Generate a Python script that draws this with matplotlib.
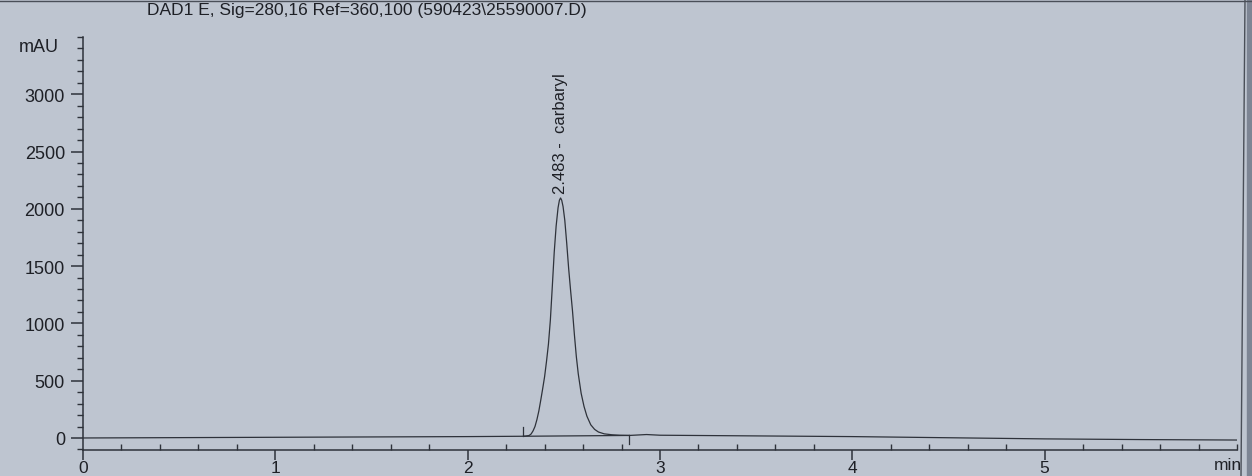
import matplotlib.pyplot as plt
import matplotlib.transforms as mtransforms
from matplotlib.ticker import MultipleLocator

# signal (time in min, signal in mAU)
time_min = [0.00, 0.50, 1.00, 1.50, 2.00, 2.29, 2.300, 2.320, 2.330, 2.340,
            2.350, 2.360, 2.370, 2.380, 2.390, 2.400, 2.410, 2.420, 2.430,
            2.440, 2.450, 2.460, 2.470, 2.477, 2.483, 2.489, 2.496, 2.505,
            2.515, 2.525, 2.535, 2.545, 2.555, 2.565, 2.575, 2.590, 2.605,
            2.620, 2.640, 2.660, 2.680, 2.710, 2.750, 2.790, 2.840, 2.930,
            3.000, 3.500, 4.000, 4.500, 5.000, 5.500, 6.000]
signal_mau = [0, 3, 6, 9, 12, 15, 16, 22, 35, 62,
              100, 160, 235, 330, 430, 535, 670, 820, 1030,
              1320, 1620, 1850, 2010, 2075, 2095, 2075, 2020, 1900,
              1700, 1480, 1290, 1110, 900, 710, 560, 390, 275,
              190, 115, 75, 52, 36, 28, 24, 22, 30,
              24, 18, 12, 2, -8, -14, -18]

peak_rt = 2.483
peak_name = "carbaryl"
peak_top = 2095
bl_start = (2.29, 15)
bl_end = (2.84, 22)

title = "DAD1 E, Sig=280,16 Ref=360,100 (590423\\25590007.D)"

bg = "#bec5d0"
ink = "#2e323a"
txt = "#1e2026"

plt.rcParams['font.family'] = ['Liberation Sans', 'DejaVu Sans']

W, H = 1252, 477
fig = plt.figure(figsize=(W / 100, H / 100), dpi=100, facecolor=bg)
ax = fig.add_axes([83 / W, (H - 451) / H, (1237 - 83) / W, (451 - 38) / H])
ax.set_facecolor(bg)

ax.plot(time_min, signal_mau, color=ink, lw=0.9)

# integration baseline and start/end marks
ax.plot([bl_start[0], bl_end[0]], [bl_start[1], bl_end[1]], color=ink, lw=0.9)
ax.plot([bl_start[0], bl_start[0]], [bl_start[1], bl_start[1] + 80], color=ink, lw=0.9)
ax.plot([bl_end[0], bl_end[0]], [bl_end[1], bl_end[1] - 75], color=ink, lw=0.9)

ax.text(peak_rt, peak_top + 40, f"{peak_rt:.3f} -  {peak_name}", rotation=90,
        ha='center', va='bottom', fontsize=12, color=txt)

ax.set_xlim(0, 6.0)
ax.set_ylim(-105, 3500)
ax.set_xticks([0, 1, 2, 3, 4, 5])
ax.xaxis.set_minor_locator(MultipleLocator(0.2))
ax.set_yticks([0, 500, 1000, 1500, 2000, 2500, 3000])
ax.yaxis.set_minor_locator(MultipleLocator(100))

for s in ['top', 'right']:
    ax.spines[s].set_visible(False)
for s in ['left', 'bottom']:
    ax.spines[s].set_color(ink)
    ax.spines[s].set_linewidth(1.1)

ax.tick_params(axis='x', which='major', direction='out', length=7, width=1.1,
               color=ink, labelsize=12.5, labelcolor=txt, pad=0)
ax.tick_params(axis='x', which='minor', direction='in', length=4, width=1.0, color=ink)
ax.tick_params(axis='y', which='major', direction='out', length=9, width=1.1,
               color=ink, labelsize=13, labelcolor=txt, pad=4)
ax.tick_params(axis='y', which='minor', direction='out', length=4, width=1.0, color=ink)

ytrans = mtransforms.blended_transform_factory(ax.transAxes, ax.transData)
ax.text(-0.021, 3420, "mAU", transform=ytrans, ha='right', va='center',
        fontsize=13, color=txt)
fig.text(1228 / W, (H - 466) / H, "min", ha='center', va='center',
         fontsize=12.5, color=txt)

fig.text(147 / W, (H - 11) / H, title, ha='left', va='center',
         fontsize=12.5, color=txt)

# printout frame edges
fig.add_artist(plt.Line2D([0, 1], [(H - 1.5) / H] * 2, color="#4a4f58", lw=1.0))
fig.add_artist(plt.Line2D([1241 / W, 1245 / W], [0, 1], color="#4a4f58", lw=1.0))
fig.add_artist(plt.Rectangle((1247 / W, 0), 5 / W, 1, color="#7d8594",
                             transform=fig.transFigure))

fig.savefig("out.png", dpi=100, facecolor=bg)
